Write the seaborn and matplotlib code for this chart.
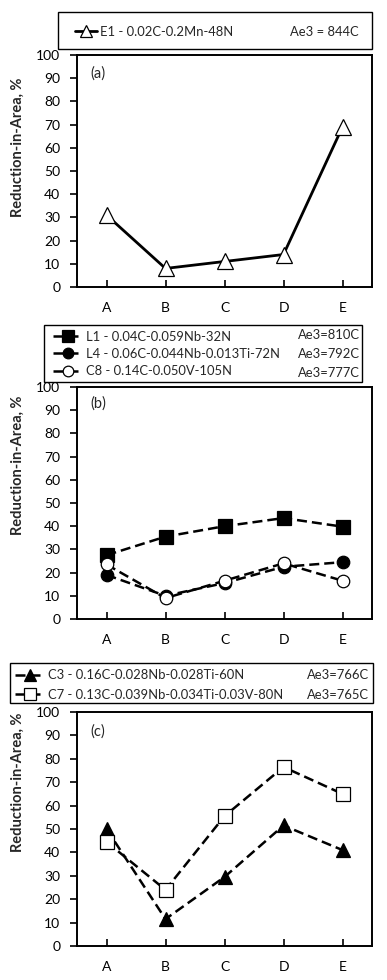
import matplotlib
matplotlib.use("Agg")
import matplotlib.pyplot as plt
import seaborn as sns
import pandas as pd
from matplotlib.patches import Rectangle

categories = ["A", "B", "C", "D", "E"]

# Panel (a)
e1 = [31, 8, 11, 14, 69]
# Panel (b)
l1 = [27.5, 35.5, 40, 43.5, 39.8]
l4 = [19, 10, 15.5, 22.5, 24.5]
c8 = [23.5, 9, 16.5, 24, 16.5]
# Panel (c)
c3 = [50, 11.5, 29.5, 51.5, 41]
c7 = [44.5, 24, 55.5, 76.5, 65]

labels_a = ["E1 - 0.02C-0.2Mn-48N"]
ae3_a = ["Ae3 = 844C"]
labels_b = ["L1 - 0.04C-0.059Nb-32N", "L4 - 0.06C-0.044Nb-0.013Ti-72N", "C8 - 0.14C-0.050V-105N"]
ae3_b = ["Ae3=810C", "Ae3=792C", "Ae3=777C"]
labels_c = ["C3 - 0.16C-0.028Nb-0.028Ti-60N", "C7 - 0.13C-0.039Nb-0.034Ti-0.03V-80N"]
ae3_c = ["Ae3=766C", "Ae3=765C"]
yticks = list(range(0, 101, 10))
ylabel = "Reduction-in-Area, %"
panel_tags = ["(a)", "(b)", "(c)"]

sns.set_style("ticks")
plt.rcParams['font.family'] = ['Lato', 'DejaVu Sans']

W, H = 387, 980
fig = plt.figure(figsize=(W / 100, H / 100), dpi=100)

LEG_FS = 9.4

def fx(px):
    return px / W

def fy(py):
    return 1 - py / H

def make_axes(top, bottom, left=77, right=372):
    return fig.add_axes([fx(left), fy(bottom), fx(right) - fx(left), fy(top) - fy(bottom)])

DASH = (0, (4, 2))

def style_axes(ax, tag, tag_y, label_y):
    ax.set_ylim(0, 100)
    ax.set_xlim(-0.5, 4.5)
    ax.set_yticks(yticks)
    ax.set_xticks(range(len(categories)))
    ax.set_xticklabels(categories)
    ax.tick_params(axis='y', direction='out', length=5, width=1.2, pad=7, labelsize=10, colors='black')
    ax.tick_params(axis='x', direction='in', length=5, width=1.2, pad=11, labelsize=10, colors='black')
    for s in ax.spines.values():
        s.set_visible(True)
        s.set_linewidth(1.4)
        s.set_color('black')
    ax.set_xlabel("")
    ax.set_ylabel(ylabel, fontsize=10.5, fontweight='bold')
    ax.yaxis.set_label_coords(-0.176, label_y)
    ax.text(0.047, tag_y, tag, transform=ax.transAxes, fontsize=10.5, va='center', ha='left')
    ax.grid(False)

def frame(x0, y0, x1, y1):
    fig.patches.append(Rectangle((fx(x0), fy(y1)), fx(x1) - fx(x0), fy(y0) - fy(y1),
                                 transform=fig.transFigure, fill=False, edgecolor='black',
                                 linewidth=1.0, zorder=5))

def legend(ax, handles, labels, x, yc, hl, spacing=0.4):
    ax.legend(handles, labels, loc='center left', bbox_to_anchor=(fx(x), fy(yc)),
              bbox_transform=fig.transFigure, frameon=False, borderpad=0, borderaxespad=0,
              handlelength=hl, handletextpad=0.2, labelspacing=spacing, fontsize=LEG_FS,
              markerscale=0.85)

# ---- Panel (a)
ax1 = make_axes(55, 287)
df_a = pd.DataFrame({"cat": categories, "val": e1})
sns.lineplot(data=df_a, x="cat", y="val", ax=ax1, color='black', lw=2, marker='^',
             markersize=11, markerfacecolor='white', markeredgecolor='black', markeredgewidth=0.9,
             sort=False)
style_axes(ax1, panel_tags[0], 0.92, 0.603)
legend(ax1, ax1.get_lines()[:1], labels_a, 75, 32, 1.7)
frame(58, 12, 372, 49)
fig.text(fx(359), fy(32), ae3_a[0], ha='right', va='center', fontsize=LEG_FS)

# ---- Panel (b)
ax2 = make_axes(387, 619)
for vals, mk, fc, ms in [(l1, 's', 'black', 10), (l4, 'o', 'black', 9), (c8, 'o', 'white', 9)]:
    df = pd.DataFrame({"cat": categories, "val": vals})
    sns.lineplot(data=df, x="cat", y="val", ax=ax2, color='black', lw=1.8, ls=DASH, marker=mk,
                 markersize=ms, markerfacecolor=fc, markeredgecolor='black', markeredgewidth=0.9,
                 sort=False)
style_axes(ax2, panel_tags[1], 0.93, 0.664)
legend(ax2, ax2.get_lines()[:3], labels_b, 53, 354, 2.3)
frame(44, 325, 362, 382)
for txt, yy in zip(ae3_b, [335, 354, 373]):
    fig.text(fx(360), fy(yy), txt, ha='right', va='center', fontsize=LEG_FS)

# ---- Panel (c)
ax3 = make_axes(712, 946)
for vals, mk, fc, ms in [(c3, '^', 'black', 10), (c7, 's', 'white', 10)]:
    df = pd.DataFrame({"cat": categories, "val": vals})
    sns.lineplot(data=df, x="cat", y="val", ax=ax3, color='black', lw=1.8, ls=DASH, marker=mk,
                 markersize=ms, markerfacecolor=fc, markeredgecolor='black', markeredgewidth=0.9,
                 sort=False)
style_axes(ax3, panel_tags[2], 0.915, 0.70)
legend(ax3, ax3.get_lines()[:2], labels_c, 15, 685, 2.3, spacing=0.55)
frame(10, 663, 373, 703)
for txt, yy in zip(ae3_c, [675, 695]):
    fig.text(fx(369), fy(yy), txt, ha='right', va='center', fontsize=LEG_FS)

fig.savefig("out.png", dpi=100, facecolor='white')
